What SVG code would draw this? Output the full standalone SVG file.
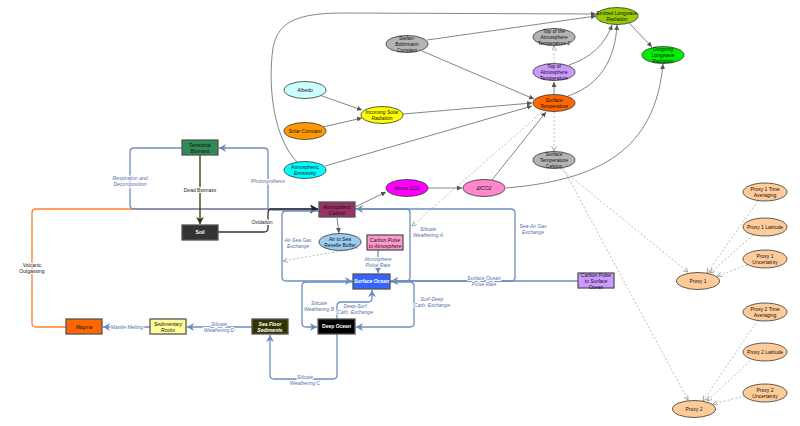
<svg xmlns="http://www.w3.org/2000/svg" width="800" height="426" viewBox="0 0 800 426">
<style>
text{font-family:"Liberation Sans","DejaVu Sans",sans-serif;font-size:5px;text-anchor:middle;fill:#111}
.i{font-style:italic}
.w{fill:#fff;font-weight:bold}
.lb{fill:#5470b0;font-style:italic;stroke:#fff;stroke-width:2px;paint-order:stroke}
.lk{fill:#222;stroke:#fff;stroke-width:2px;paint-order:stroke}
.e{stroke:#333;stroke-width:0.8}
.r{stroke:#555;stroke-width:1.3}
.g{fill:none;stroke:#666;stroke-width:0.8}
.d{fill:none;stroke:#aaa;stroke-width:0.8;stroke-dasharray:2,2}
.b{fill:none;stroke:#6c8ebf;stroke-width:1.3}
</style>
<defs>
<marker id="ga" markerUnits="userSpaceOnUse" markerWidth="6" markerHeight="6" refX="5" refY="2.5" orient="auto"><path d="M0,0 L5,2.5 L0,5 z" fill="#555"/></marker>
<marker id="da" markerUnits="userSpaceOnUse" markerWidth="6" markerHeight="6" refX="5" refY="2.5" orient="auto"><path d="M0,0 L5,2.5 L0,5" fill="none" stroke="#999" stroke-width="0.8"/></marker>
<marker id="ba" markerUnits="userSpaceOnUse" markerWidth="9" markerHeight="9" refX="7" refY="4" orient="auto"><path d="M0,0 L7,4 L0,8 L2,4 z" fill="#6c8ebf"/></marker>
<marker id="ka" markerUnits="userSpaceOnUse" markerWidth="10" markerHeight="10" refX="8" refY="4.5" orient="auto"><path d="M0,0 L8,4.5 L0,9 L2,4.5 z" fill="#222"/></marker>
<marker id="oa" markerUnits="userSpaceOnUse" markerWidth="9" markerHeight="9" refX="7" refY="4" orient="auto"><path d="M0,0 L7,4 L0,8 L2,4 z" fill="#333300"/></marker>
<marker id="ra" markerUnits="userSpaceOnUse" markerWidth="9" markerHeight="9" refX="7" refY="4" orient="auto"><path d="M0,0 L7,4 L0,8 L2,4 z" fill="#ff7f2a"/></marker>
</defs>
<rect width="800" height="426" fill="#fff"/>
<g id="connectors">
<path class="g" d="M427,40 L596,16" marker-end="url(#ga)"/>
<path class="g" d="M422,51 L534,99" marker-end="url(#ga)"/>
<path class="g" d="M297,162 C272,136 268,82 273,48 C278,20 300,13 345,13 L596,14" marker-end="url(#ga)"/>
<path class="g" d="M322,96 L362,110" marker-end="url(#ga)"/>
<path class="g" d="M323,127 L362,118" marker-end="url(#ga)"/>
<path class="g" d="M403,114 L532,103" marker-end="url(#ga)"/>
<path class="g" d="M325,166 L532,106" marker-end="url(#ga)"/>
<path class="g" d="M492,180 L546,112" marker-end="url(#ga)"/>
<path class="g" d="M428,188 L462,188" marker-end="url(#ga)"/>
<path class="g" d="M355,207 L386,192" marker-end="url(#ga)"/>
<path class="g" d="M554,94 L554,82" marker-end="url(#ga)"/>
<path class="g" d="M569,65 C590,58 605,45 612,25" marker-end="url(#ga)"/>
<path class="g" d="M568,96 C600,85 615,60 617,25" marker-end="url(#ga)"/>
<path class="g" d="M629,23 L652,47" marker-end="url(#ga)"/>
<path class="g" d="M506,188 C600,180 655,150 663,64" marker-end="url(#ga)"/>
<path class="g" d="M337,218 L339,233" marker-end="url(#ga)"/>
<path class="d" d="M554,63 L554,46" marker-end="url(#da)"/>
<path class="d" d="M554,112 L554,151" marker-end="url(#da)"/>
<path class="d" d="M542,112 L412,226" marker-end="url(#da)"/>
<path class="d" d="M358,248 L283,261" marker-end="url(#da)"/>
<path class="d" d="M560,168 L688,272" marker-end="url(#da)"/>
<path class="d" d="M563,168 L688,400" marker-end="url(#da)"/>
<path class="d" d="M758,201 L707,273" marker-end="url(#da)"/>
<path class="d" d="M753,235 L710,273" marker-end="url(#da)"/>
<path class="d" d="M747,265 L717,276" marker-end="url(#da)"/>
<path class="d" d="M758,320 L703,401" marker-end="url(#da)"/>
<path class="d" d="M750,361 L707,401" marker-end="url(#da)"/>
<path class="d" d="M745,396 L713,404" marker-end="url(#da)"/>
<path d="M66,327 L36,327 Q32,327 32,323 L32,213 Q32,209 36,209 L318,209" fill="none" stroke="#ff7f2a" stroke-width="1.3" marker-end="url(#ra)"/>
<path class="b" d="M182,148 L134,148 Q130,148 130,152 L130,205 Q130,209 134,209 L318,209" marker-end="url(#ba)"/>
<path class="b" d="M319,210 L272,210 Q268,210 268,206 L268,152 Q268,148 264,148 L219,148" marker-end="url(#ba)"/>
<path d="M200,155 L200,224" fill="none" stroke="#333300" stroke-width="1.3" marker-end="url(#oa)"/>
<path d="M218,232 L264,232 Q268,232 268,228 L268,213 Q268,209 272,209 L318,209" fill="none" stroke="#333" stroke-width="1.3" marker-end="url(#ka)"/>
<path class="b" d="M319,211 L286,211 Q282,211 282,215 L282,277 Q282,281 286,281 L352,281" marker-end="url(#ba)"/>
<path class="b" d="M390,281 L511,281 Q515,281 515,277 L515,213 Q515,209 511,209 L356,209" marker-end="url(#ba)"/>
<path class="b" d="M355,209 L406,209 Q410,209 410,213 L410,277 Q410,281 406,281 L391,281" marker-end="url(#ba)"/>
<path class="b" d="M578,281 L391,281" marker-end="url(#ba)"/>
<path class="b" d="M378,250 L378,273" marker-end="url(#ba)"/>
<path class="b" d="M337,319 L337,306 Q337,302 341,302 L368,302 Q372,302 372,298 L372,290" marker-end="url(#ba)"/>
<path class="b" d="M390,282 L410,282 Q414,282 414,286 L414,323 Q414,327 410,327 L356,327" marker-end="url(#ba)"/>
<path class="b" d="M353,282 L306,282 Q302,282 302,286 L302,323 Q302,327 306,327 L317,327" marker-end="url(#ba)"/>
<path class="b" d="M337,334 L337,375 Q337,379 333,379 L274,379 Q270,379 270,375 L270,335" marker-end="url(#ba)"/>
<path class="b" d="M252,327 L187,327" marker-end="url(#ba)"/>
<path class="b" d="M150,327 L103,327" marker-end="url(#ba)"/>
<text class="lb" x="130" y="180">Respiration and</text>
<text class="lb" x="130" y="186">Decomposition</text>
<text class="lb" x="268" y="183">Photosynthesis</text>
<text class="lk" x="200" y="192">Dead Biomass</text>
<text class="lk" x="262" y="224">Oxidation</text>
<text class="lk" x="32" y="267">Volcanic</text>
<text class="lk" x="32" y="273">Outgassing</text>
<text class="lb" x="298" y="242">Air-Sea Gas</text>
<text class="lb" x="298" y="248">Exchange</text>
<text class="lb" x="428" y="231">Silicate</text>
<text class="lb" x="428" y="237">Weathering A</text>
<text class="lb" x="533" y="228">Sea-Air Gas</text>
<text class="lb" x="533" y="234">Exchange</text>
<text class="lb" x="378" y="261">Atmosphere</text>
<text class="lb" x="378" y="267">Pulse Rate</text>
<text class="lb" x="484" y="280">Surface Ocean</text>
<text class="lb" x="484" y="286">Pulse Rate</text>
<text class="lb" x="319" y="305">Silicate</text>
<text class="lb" x="319" y="311">Weathering B</text>
<text class="lb" x="355" y="308">Deep-Surf</text>
<text class="lb" x="355" y="314">Carb. Exchange</text>
<text class="lb" x="432" y="301">Surf-Deep</text>
<text class="lb" x="432" y="307">Carb. Exchange</text>
<text class="lb" x="305" y="379">Silicate</text>
<text class="lb" x="305" y="385">Weathering C</text>
<text class="lb" x="219" y="326">Silicate</text>
<text class="lb" x="219" y="332">Weathering D</text>
<text class="lb" x="127" y="329">Mantle Melting</text>
</g>
<g id="emitted-longwave"><ellipse class="e" cx="617" cy="16" rx="21" ry="8.5" fill="#99cc00"/><text x="617" y="15">Emitted Longwave</text><text x="617" y="21">Radiation</text></g>
<g id="outgoing-longwave"><ellipse class="e" cx="663" cy="55" rx="21" ry="8.5" fill="#00ee00"/><text x="663" y="51">Outgoing</text><text x="663" y="57">Longwave</text><text x="663" y="63">Radiation</text></g>
<g id="toa-temp-2"><ellipse class="e" cx="554" cy="37" rx="21" ry="8.5" fill="#b3b3b3"/><text x="554" y="33">Top of the</text><text x="554" y="39">Atmosphere</text><text x="554" y="45">Temperature 2</text></g>
<g id="toa-temp"><ellipse class="e" cx="554" cy="72" rx="21" ry="8.5" fill="#cc99ff"/><text x="554" y="68">Top of</text><text x="554" y="74">Atmosphere</text><text x="554" y="80">Temperature</text></g>
<g id="surface-temp"><ellipse class="e" cx="554" cy="103" rx="21" ry="8.5" fill="#ff6600"/><text class="i" x="554" y="102">Surface</text><text class="i" x="554" y="108">Temperature</text></g>
<g id="surface-temp-c"><ellipse class="e" cx="554" cy="160" rx="21" ry="8.5" fill="#b3b3b3"/><text x="554" y="156">Surface</text><text x="554" y="162">Temperature</text><text x="554" y="168">Celsius</text></g>
<g id="stefan-boltzmann"><ellipse class="e" cx="407" cy="44" rx="21" ry="8.5" fill="#b3b3b3"/><text x="407" y="40">Stefan-</text><text x="407" y="46">Boltzmann</text><text x="407" y="52">Constant</text></g>
<g id="albedo"><ellipse class="e" cx="305" cy="90" rx="21" ry="8.5" fill="#ccffff"/><text x="305" y="92">Albedo</text></g>
<g id="incoming-solar"><ellipse class="e" cx="382" cy="115" rx="21" ry="8.5" fill="#ffff00"/><text class="i" x="382" y="114">Incoming Solar</text><text class="i" x="382" y="120">Radiation</text></g>
<g id="solar-constant"><ellipse class="e" cx="305" cy="131" rx="21" ry="8.5" fill="#ff9900"/><text class="i" x="305" y="133">Solar Constant</text></g>
<g id="atm-emissivity"><ellipse class="e" cx="305" cy="170" rx="21" ry="8.5" fill="#00ffff"/><text x="305" y="169">Atmospheric</text><text x="305" y="175">Emissivity</text></g>
<g id="atmos-co2"><ellipse class="e" cx="407" cy="188" rx="21" ry="8.5" fill="#ff00ff"/><text class="i" x="407" y="190">Atmos CO2</text></g>
<g id="dfco2"><ellipse class="e" cx="484" cy="188" rx="21" ry="8.5" fill="#ff88cc"/><text class="i" x="484" y="190">ΔfCO2</text></g>
<g id="revelle"><ellipse class="e" cx="340" cy="242" rx="21" ry="8.5" fill="#99ccee"/><text x="340" y="241">Air to Sea</text><text x="340" y="247">Revelle Buffer</text></g>
<g id="terrestrial-biomass"><rect class="r" x="182" y="140" width="36" height="15" fill="#2e8b57"/><text x="200" y="146.5">Terrestrial</text><text x="200" y="152.5">Biomass</text></g>
<g id="soil"><rect class="r" x="182" y="225" width="36" height="15" fill="#333"/><text class="w" x="200" y="234">Soil</text></g>
<g id="atmospheric-carbon"><rect class="r" x="319" y="202" width="36" height="15" fill="#993366"/><text class="i" x="337" y="208.5">Atmospheric</text><text class="i" x="337" y="214.5">Carbon</text></g>
<g id="pulse-atmosphere"><rect class="r" x="367" y="235" width="36" height="15" fill="#ff99cc"/><text class="i" x="385" y="241.5">Carbon Pulse</text><text class="i" x="385" y="247.5">to Atmosphere</text></g>
<g id="surface-ocean"><rect class="r" x="353" y="274" width="37" height="15" fill="#3366ff"/><text class="w i" x="371.5" y="283">Surface Ocean</text></g>
<g id="deep-ocean"><rect class="r" x="318" y="319" width="37" height="15" fill="#000"/><text class="w" x="336.5" y="328">Deep Ocean</text></g>
<g id="sea-floor"><rect class="r" x="252" y="319" width="36" height="15" fill="#333300"/><text class="w i" x="270" y="325.5">Sea Floor</text><text class="w i" x="270" y="331.5">Sediments</text></g>
<g id="sedimentary-rocks"><rect class="r" x="150" y="319" width="36" height="15" fill="#ffff99"/><text class="i" x="168" y="325.5">Sedimentary</text><text class="i" x="168" y="331.5">Rocks</text></g>
<g id="magma"><rect class="r" x="66" y="319" width="36" height="15" fill="#ff6600"/><text class="i" x="84" y="328.5">Magma</text></g>
<g id="pulse-surface-ocean"><rect class="r" x="578" y="273" width="36" height="15" fill="#cc99ff"/><text x="596" y="276.5">Carbon Pulse</text><text class="i" x="596" y="282.5">to Surface</text><text class="i" x="596" y="288.5">Ocean</text></g>
<g id="proxy1-time"><ellipse class="e" cx="765" cy="192" rx="22" ry="9" fill="#ffcc99"/><text x="765" y="191">Proxy 1 Time</text><text x="765" y="197">Averaging</text></g>
<g id="proxy1-lat"><ellipse class="e" cx="765" cy="227" rx="22" ry="9" fill="#ffcc99"/><text x="765" y="229">Proxy 1 Latitude</text></g>
<g id="proxy1-unc"><ellipse class="e" cx="765" cy="259" rx="22" ry="9" fill="#ffcc99"/><text x="765" y="258">Proxy 1</text><text x="765" y="264">Uncertainty</text></g>
<g id="proxy1"><ellipse class="e" cx="698" cy="281" rx="21.5" ry="8.5" fill="#ffcc99"/><text x="698" y="283">Proxy 1</text></g>
<g id="proxy2-time"><ellipse class="e" cx="765" cy="312" rx="22" ry="9" fill="#ffcc99"/><text x="765" y="311">Proxy 2 Time</text><text x="765" y="317">Averaging</text></g>
<g id="proxy2-lat"><ellipse class="e" cx="765" cy="352" rx="22" ry="9" fill="#ffcc99"/><text x="765" y="354">Proxy 2 Latitude</text></g>
<g id="proxy2-unc"><ellipse class="e" cx="765" cy="393" rx="22" ry="9" fill="#ffcc99"/><text x="765" y="392">Proxy 2</text><text x="765" y="398">Uncertainty</text></g>
<g id="proxy2"><ellipse class="e" cx="694" cy="409" rx="21.5" ry="8.5" fill="#ffcc99"/><text x="694" y="411">Proxy 2</text></g>
</svg>
